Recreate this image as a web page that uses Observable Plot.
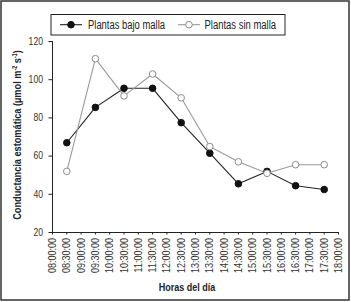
<!DOCTYPE html>
<html><head><meta charset="utf-8">
<script src="https://cdn.jsdelivr.net/npm/d3@7"></script>
<script src="https://cdn.jsdelivr.net/npm/@observablehq/plot@0.6"></script>
<style>
body{margin:0;background:#fff}
#c{position:relative;width:351px;height:302px}
</style></head><body><div id="c"></div>
<script>
const horas = ["08:30:00","09:30:00","10:30:00","11:30:00","12:30:00","13:30:00","14:30:00","15:30:00","16:30:00","17:30:00"];
const bajoMalla = [67, 85.5, 95.5, 95.5, 77.5, 61.5, 45.5, 52, 44.5, 42.5];
const sinMalla = [52, 111, 91.5, 103, 90.5, 65, 57, 51, 55.5, 55.5];
const series = ["Plantas bajo malla", "Plantas sin malla"];
const tickLabels = ["08:00:00","08:30:00","09:00:00","09:30:00","10:00:00","10:30:00","11:00:00","11:30:00","12:00:00","12:30:00","13:00:00","13:30:00","14:00:00","14:30:00","15:00:00","15:30:00","16:00:00","16:30:00","17:00:00","17:30:00","18:00:00"];
const yTicks = [20, 40, 60, 80, 100, 120];

const toH = s => { const [h, m] = s.split(":").map(Number); return h + m / 60; };
const data = horas.flatMap((t, i) => [
  {t: toH(t), v: bajoMalla[i], s: series[0]},
  {t: toH(t), v: sinMalla[i], s: series[1]}
]);
const xTicks = tickLabels.map(toH);
const font = "'Liberation Sans Narrow','Arial Narrow','Liberation Sans',Arial,sans-serif";
const colors = {"Plantas bajo malla": "#111", "Plantas sin malla": "#8c8c8c"};
const lineColors = {"Plantas bajo malla": "#222", "Plantas sin malla": "#9a9a9a"};
const fills = {"Plantas bajo malla": "#111", "Plantas sin malla": "#fff"};

const chart = Plot.plot({
  width: 351, height: 302,
  marginLeft: 52, marginRight: 13, marginTop: 41, marginBottom: 70,
  style: {fontFamily: font, fontSize: "10.5px", color: "#333", background: "transparent"},
  x: {domain: [8, 18]},
  y: {domain: [20, 120]},
  marks: [
    Plot.axisY({ticks: yTicks, tickSize: 3.5, tickPadding: 6, label: null, fontSize: 10.5, stroke: "#222"}),
    Plot.axisX({ticks: xTicks, tickSize: 2.5, tickPadding: 3, tickRotate: -90, label: null, fontSize: 11,
      tickFormat: d => tickLabels[xTicks.indexOf(d)], stroke: "#222"}),
    Plot.ruleX([8], {stroke: "#222"}),
    Plot.ruleY([20], {stroke: "#222"}),
    Plot.line(data, {x: "t", y: "v", z: "s", stroke: d => lineColors[d.s], strokeWidth: 1.1}),
    Plot.dot(data, {x: "t", y: "v", r: 3.3, stroke: d => colors[d.s], fill: d => fills[d.s], strokeWidth: 1})
  ]
});
document.getElementById("c").appendChild(chart);

const svg = d3.select(chart);
const narrow = 0.82;
// emulate a narrow typeface for axis tick labels
svg.selectAll("g[aria-label$='tick label'] text").each(function() {
  const w = this.getComputedTextLength();
  this.setAttribute("textLength", (w * narrow).toFixed(2));
  this.setAttribute("lengthAdjust", "spacingAndGlyphs");
});

svg.append("rect").attr("x", 1).attr("y", 1).attr("width", 348).attr("height", 299)
  .attr("fill", "none").attr("stroke", "#333").attr("stroke-width", 1.5);

const yl = svg.append("text").attr("x", 0).attr("y", 0)
  .attr("text-anchor", "middle").attr("font-weight", "bold").attr("font-size", 11)
  .attr("fill", "#222").attr("font-family", font);
yl.append("tspan").text("Conductancia estomática (µmol m");
yl.append("tspan").attr("dy", -4).attr("font-size", 6.5).text("-2");
yl.append("tspan").attr("dy", 4).text(" s");
yl.append("tspan").attr("dy", -4).attr("font-size", 6.5).text("-1");
yl.append("tspan").attr("dy", 4).text(")");
const ylw = yl.node().getBBox().width;
yl.attr("transform", `translate(20.5,135) rotate(-90) scale(${(170 / ylw).toFixed(3)},1)`);

const xt = svg.append("text").attr("x", 0).attr("y", 0).attr("text-anchor", "middle")
  .attr("font-weight", "bold").attr("font-size", 11).attr("fill", "#222")
  .attr("font-family", font).text("Horas del día");
xt.attr("transform", `translate(187,291) scale(${narrow},1)`);

const lg = svg.append("g");
lg.append("rect").attr("x", 51).attr("y", 14.5).attr("width", 234).attr("height", 20.5)
  .attr("fill", "#fff").attr("stroke", "#222").attr("stroke-width", 1);
const items = [{x: 60, tx: 88, w: 77, s: series[0]}, {x: 178, tx: 204.5, w: 71.5, s: series[1]}];
items.forEach(it => {
  lg.append("line").attr("x1", it.x).attr("x2", it.x + 22).attr("y1", 24.7).attr("y2", 24.7)
    .attr("stroke", lineColors[it.s]).attr("stroke-width", 1.1);
  lg.append("circle").attr("cx", it.x + 11).attr("cy", 24.7).attr("r", 3.3)
    .attr("fill", fills[it.s]).attr("stroke", colors[it.s]);
  lg.append("text").attr("x", it.tx).attr("y", 28.8).attr("text-anchor", "start")
    .attr("font-size", 12).attr("fill", "#222").attr("font-family", font)
    .attr("textLength", it.w).attr("lengthAdjust", "spacingAndGlyphs").text(it.s);
});
</script></body></html>
